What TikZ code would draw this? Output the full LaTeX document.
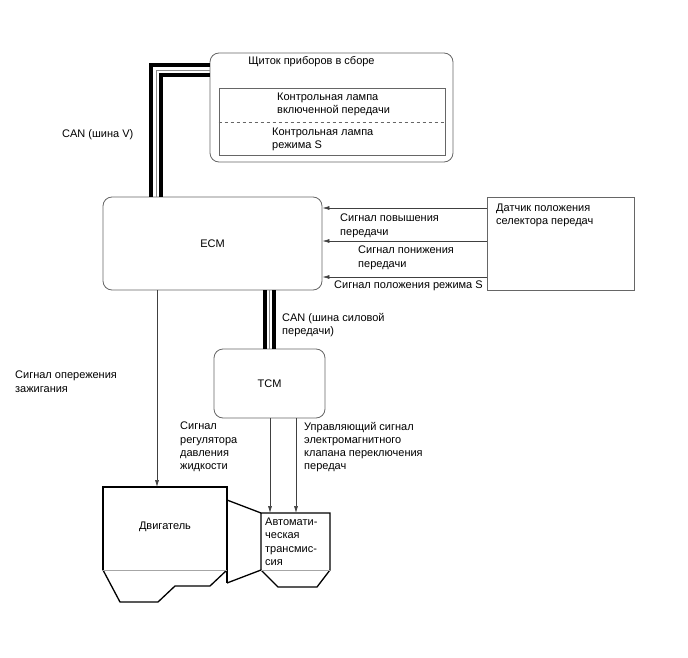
\documentclass[tikz,border=0pt]{standalone}
\usepackage{fontspec}
\setmainfont{Liberation Sans}
\usetikzlibrary{arrows.meta}

\begin{document}
\begin{tikzpicture}[x=1pt, y=-1pt, font=\fontsize{11}{13.2}\selectfont]
	\tikzstyle{unit}  = [draw=black!60, rounded corners=9pt, line width=0.8pt]
	\tikzstyle{plain} = [draw=black!60, line width=0.8pt]
	\tikzstyle{txt}   = [align=left, inner sep=0pt, anchor=north west]
	\tikzstyle{sig}   = [draw=black!75, line width=0.6pt, -{Latex[length=7pt,width=4pt]}]
	\tikzstyle{bus}   = [line width=4pt, line join=miter]
	\tikzstyle{core}  = [black!45, line width=0.7pt]
	\tikzstyle{body}  = [draw=black, line width=1.3pt, line join=miter]

	\useasboundingbox (0,0) rectangle (688,658);

	% units
	\node[unit, minimum width=243pt, minimum height=109pt] (cluster) at (331.5,107.5) {};
	\node[plain, minimum width=226pt, minimum height=67pt] (lamps) at (332,121.5) {};
	\node[unit, minimum width=219pt, minimum height=93pt] (ecm) at (212.5,243.5) {ECM};
	\node[plain, minimum width=147pt, minimum height=93pt] (sens) at (560.5,243.5) {};
	\node[unit, minimum width=111pt, minimum height=69pt] (tcm) at (269.5,383.5) {TCM};

	\draw[plain, dashed, line width=0.5pt] (lamps.west |- 0,122) -- (lamps.east |- 0,122);

	% texts
	\node[inner sep=0pt] (clustername) at (311.5,62) {Щиток приборов в сборе};
	\node[txt] (lamp1) at (277,93) {Контрольная лампа\\включенной передачи};
	\node[txt] (lamp2) at (272,128) {Контрольная лампа\\режима S};
	\node[txt] (sensname) at (496,204) {Датчик положения\\селектора передач};
	\node[txt] (canv) at (62,129) {CAN (шина V)};
	\node[txt] (canp) at (282,313) {CAN (шина силовой\\передачи)};
	\node[txt] (up) at (340,214) {Сигнал повышения\\передачи};
	\node[txt] (down) at (358,246) {Сигнал понижения\\передачи};
	\node[txt] (smode) at (334,281) {Сигнал положения режима S};
	\node[txt] (ign) at (15,371) {Сигнал опережения\\зажигания};
	\node[txt] (press) at (180,422) {Сигнал\\регулятора\\давления\\жидкости};
	\node[txt] (sol) at (304,422) {Управляющий сигнал\\электромагнитного\\клапана переключения\\передач};

	% buses
	\foreach \x/\y in {151/65, 161/75}
		\draw[bus] (ecm.north -| \x,0) |- (cluster.west |- 0,\y);
	\draw[core] (ecm.north -| 156,0) |- (cluster.west |- 0,70);
	\foreach \x in {264.5, 274}
		\draw[bus] (ecm.south -| \x,0) -- (tcm.north -| \x,0);
	\draw[core] (ecm.south -| 269.25,0) -- (tcm.north -| 269.25,0);

	% signals
	\foreach \y in {208, 241, 277}
		\draw[sig] (sens.west |- 0,\y) -- (ecm.east |- 0,\y);

	% engine and transmission
	\draw[body] (103,570) -- (103,487) -- (227,487) -- (227,583);
	\draw[body] (227,570) -- (210,586) -- (175,586) -- (158,602) -- (120,602) -- (103,570);
	\draw[black!35, line width=0.7pt] (103,570) -- (227,570);
	\draw[body] (227,500) -- (261,513);
	\draw[body] (227,583) -- (261,570);
	\draw[body] (261,570) -- (261,513) -- (330,513) -- (330,570) -- (317,587) -- (278,587) -- (261,570);
	\draw[black!35, line width=0.7pt] (261,570) -- (330,570);
	\node (eng) at (165,527) {Двигатель};
	\node[txt] (trans) at (265,518) {Автомати-\\ческая\\трансмис-\\сия};

	\coordinate (engtop) at (157,487);
	\coordinate (attop1) at (270,513);
	\coordinate (attop2) at (296,513);
	\draw[sig] (ecm.south -| engtop) -- (engtop);
	\draw[sig] (tcm.south -| attop1) -- (attop1);
	\draw[sig] (tcm.south -| attop2) -- (attop2);
\end{tikzpicture}
\end{document}
